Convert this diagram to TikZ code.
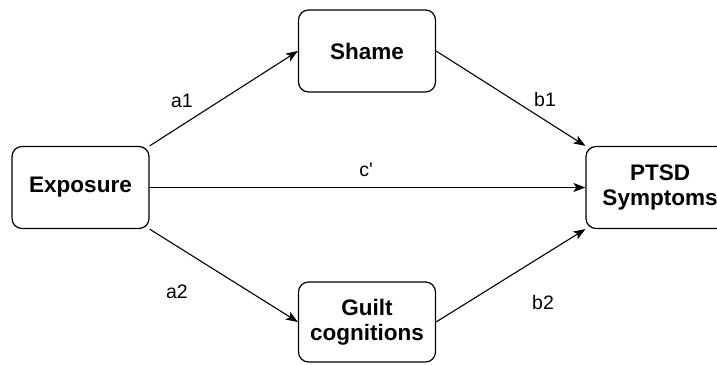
\documentclass[tikz,border=0pt]{standalone}
\usepackage{fontspec}
\setmainfont{Liberation Sans}[Ligatures=TeXOff]
\usetikzlibrary{arrows.meta}

\begin{document}
\begin{tikzpicture}[x=1pt,y=-1pt,
  box/.style={draw, rounded corners=10pt, line width=1.2pt,
    minimum width=137pt, minimum height=82pt, inner sep=2pt,
    align=center, font=\bfseries\fontsize{22.5}{25}\selectfont},
  lbl/.style={font=\fontsize{19.5}{22}\selectfont},
  link/.style={-{Stealth[length=12pt,width=9pt,inset=3pt]}, line width=1.1pt}]
\useasboundingbox (0,0) rectangle (717,364);
\node[box] (expo) at (80.5,187.5) {Exposure};
\node[box] (shame) at (367,51) {Shame};
\node[box, minimum height=80pt] (guilt) at (367,322) {Guilt\\cognitions};
\node[box, minimum width=148pt] (ptsd) at (660,187.5) {PTSD\\Symptoms};
% paths
\draw[link] (expo.north east) -- (shame.west);
\draw[link] (shame.east) -- (ptsd.north west);
\draw[link] (expo.east) -- (ptsd.west);
\draw[link] (expo.south east) -- (guilt.west);
\draw[link] (guilt.east) -- (ptsd.south west);
% coefficients
\node[lbl] (a1) at (182,101) {a1};
\node[lbl] (b1) at (545,100) {b1};
\node[lbl] (c) at (366,170) {c'};
\node[lbl] (a2) at (177,292) {a2};
\node[lbl] (b2) at (543,303) {b2};
\end{tikzpicture}
\end{document}
